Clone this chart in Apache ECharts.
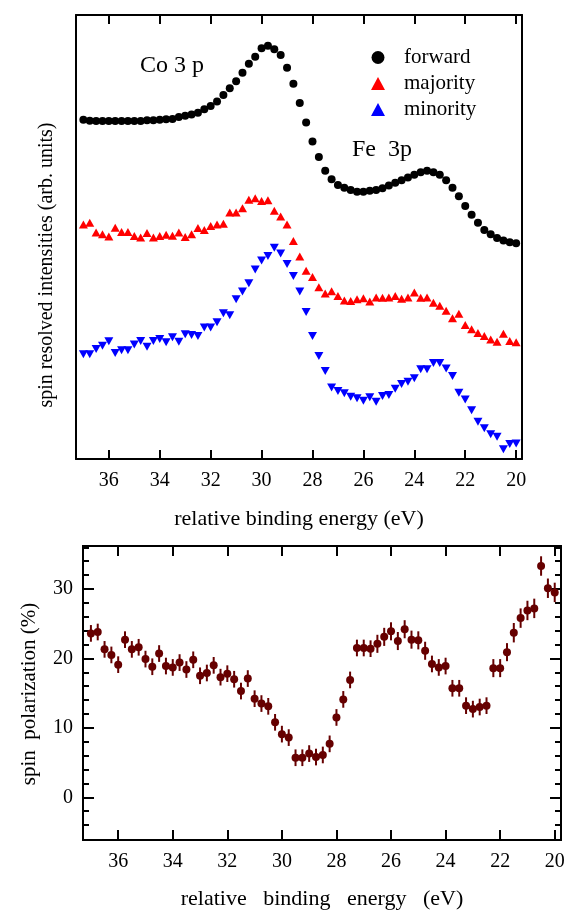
<!DOCTYPE html>
<html>
<head>
<meta charset="utf-8">
<script src="https://cdn.jsdelivr.net/npm/echarts@6/dist/echarts.min.js"></script>
<style>
  html, body { margin: 0; padding: 0; background: #fff; }
  #chart { width: 566px; height: 910px; }
</style>
</head>
<body>
<div id="chart"></div>
<script>
// binding energies (eV), same grid for all curves
const energy = [37, 36.75, 36.5, 36.25, 36, 35.75, 35.5, 35.25, 35, 34.75, 34.5, 34.25, 34, 33.75, 33.5, 33.25,
  33, 32.75, 32.5, 32.25, 32, 31.75, 31.5, 31.25, 31, 30.75, 30.5, 30.25, 30, 29.75, 29.5, 29.25, 29, 28.75,
  28.5, 28.25, 28, 27.75, 27.5, 27.25, 27, 26.75, 26.5, 26.25, 26, 25.75, 25.5, 25.25, 25, 24.75, 24.5, 24.25,
  24, 23.75, 23.5, 23.25, 23, 22.75, 22.5, 22.25, 22, 21.75, 21.5, 21.25, 21, 20.75, 20.5, 20.25, 20]

// spin resolved intensities (arb. units)
const forward = [76.4, 76.2, 76.1, 76.1, 76.1, 76.1, 76.1, 76.1, 76.1, 76.1, 76.3, 76.3, 76.4, 76.5, 76.6, 77.0,
  77.3, 77.6, 78.0, 78.8, 79.5, 80.5, 82.0, 83.5, 85.1, 87.0, 89.0, 90.6, 92.5, 93.1, 92.3, 91.0, 88.1, 84.5,
  80.2, 75.8, 71.5, 68.0, 64.9, 63.0, 61.7, 61.1, 60.6, 60.2, 60.2, 60.4, 60.6, 61.0, 61.6, 62.2, 62.8, 63.4,
  64.0, 64.6, 64.9, 64.6, 64.0, 62.8, 61.1, 59.2, 57.0, 55.0, 53.2, 51.6, 50.6, 49.8, 49.2, 48.8, 48.6]

const majority = [52.8, 53.2, 51.0, 50.6, 50.1, 52.1, 51.1, 51.1, 50.2, 49.9, 50.9, 49.9, 50.2, 50.5, 50.3, 51.0,
  50.0, 50.6, 52.0, 51.6, 52.5, 52.8, 53.0, 55.5, 55.5, 56.5, 58.4, 58.7, 58.1, 58.3, 55.9, 54.6, 52.8, 49.1,
  45.6, 42.4, 41.0, 38.7, 37.3, 37.8, 36.7, 35.7, 35.6, 36.0, 36.2, 35.5, 36.4, 36.3, 36.4, 36.7, 36.1, 36.4,
  37.5, 36.3, 36.4, 35.2, 34.5, 33.4, 31.7, 32.7, 30.2, 29.2, 28.4, 27.7, 26.9, 26.4, 28.2, 26.6, 26.3]

const minority = [23.6, 23.6, 24.8, 25.5, 26.5, 23.9, 24.5, 24.5, 25.8, 26.6, 25.3, 26.6, 27.0, 26.3, 27.4, 26.4,
  28.1, 27.9, 27.7, 29.6, 29.6, 30.8, 32.8, 32.4, 36.0, 37.7, 39.6, 42.7, 44.7, 45.7, 47.6, 46.3, 43.9, 41.2,
  37.7, 33.1, 27.7, 23.2, 19.8, 16.1, 15.3, 14.8, 14.0, 13.7, 13.1, 13.9, 12.9, 14.2, 14.4, 15.8, 16.9, 17.4,
  18.2, 20.2, 20.2, 21.6, 21.6, 20.4, 18.7, 14.9, 13.4, 11.0, 8.4, 6.9, 5.6, 5.0, 2.2, 3.4, 3.5]

// spin polarization (%) and its error bars
const polarization = [23.6, 23.8, 21.3, 20.5, 19.1, 22.7, 21.3, 21.6, 19.9, 18.8, 20.7, 18.9, 18.7, 19.4, 18.4,
  19.8, 17.5, 17.9, 19.0, 17.3, 17.8, 17.0, 15.3, 17.1, 14.2, 13.5, 13.1, 10.8, 9.1, 8.6, 5.7, 5.7, 6.3, 5.8,
  6.1, 7.7, 11.5, 14.1, 16.9, 21.5, 21.5, 21.4, 22.1, 23.1, 23.9, 22.5, 24.2, 22.7, 22.6, 21.1, 19.2, 18.7,
  18.9, 15.7, 15.7, 13.2, 12.7, 13.0, 13.2, 18.6, 18.6, 20.9, 23.7, 25.8, 26.9, 27.2, 33.3, 30.1, 29.5]

const polError = [1.2, 1.2, 1.2, 1.2, 1.2, 1.2, 1.2, 1.2, 1.2, 1.2, 1.2, 1.2, 1.2, 1.2, 1.2,
  1.2, 1.2, 1.2, 1.2, 1.2, 1.2, 1.2, 1.2, 1.2, 1.2, 1.2, 1.2, 1.2, 1.2, 1.2, 1.2, 1.2, 1.2, 1.2,
  1.2, 1.2, 1.2, 1.2, 1.2, 1.2, 1.2, 1.2, 1.3, 1.3, 1.3, 1.3, 1.3, 1.3, 1.3, 1.3, 1.2, 1.2,
  1.2, 1.2, 1.2, 1.2, 1.2, 1.2, 1.2, 1.3, 1.3, 1.3, 1.4, 1.4, 1.4, 1.4, 1.4, 1.4, 1.4]

const xTicks = [36, 34, 32, 30, 28, 26, 24, 22, 20]
const polMajor = [0, 10, 20, 30]
const polMinor = [-4, -2, 2, 4, 6, 8, 12, 14, 16, 18, 22, 24, 26, 28, 32, 34, 36]

const serif = 'Liberation Serif'
const frame = { show: true, onZero: false, lineStyle: { color: '#000', width: 2 } }

const chart = echarts.init(document.getElementById('chart'))

const xAxisFor = (gridIndex, position, labels, name, nameGap, tickLen, nameSize) => ({
  gridIndex,
  type: 'value',
  position,
  min: 19.77,
  max: 37.29,
  inverse: true,
  axisLine: frame,
  splitLine: { show: false },
  axisTick: { show: true, inside: true, length: tickLen, customValues: xTicks, lineStyle: { color: '#000', width: 2 } },
  axisLabel: labels ? {
    show: true, customValues: xTicks, margin: 12, color: '#000', fontFamily: serif, fontSize: 20
  } : { show: false },
  name: name || '',
  nameLocation: 'middle',
  nameGap,
  nameTextStyle: { color: '#000', fontFamily: serif, fontSize: nameSize || 20 }
})

const polAxis = (position, ticks, len, labels) => ({
  gridIndex: 1,
  type: 'value',
  position,
  min: -6.14,
  max: 36.18,
  axisLine: frame,
  splitLine: { show: false },
  axisTick: { show: true, inside: true, length: len, customValues: ticks, lineStyle: { color: '#000', width: 2 } },
  axisLabel: labels ? {
    show: true, customValues: ticks, margin: 10, color: '#000', fontFamily: serif, fontSize: 20
  } : { show: false }
})

const option = {
  animation: false,
  backgroundColor: '#fff',
  grid: [
    { left: 76, top: 15, width: 446, height: 444, outerBoundsMode: 'none', containLabel: false },
    { left: 83, top: 546, width: 478, height: 294, outerBoundsMode: 'none', containLabel: false }
  ],
  xAxis: [
    xAxisFor(0, 'bottom', true, 'relative binding energy (eV)', 49, 9, 22),
    xAxisFor(0, 'top', false, '', 0, 9),
    xAxisFor(1, 'bottom', true, 'relative   binding   energy   (eV)', 48, 10, 22),
    xAxisFor(1, 'top', false, '', 0, 10)
  ],
  yAxis: [
    { gridIndex: 0, type: 'value', position: 'left', min: 0, max: 100, axisLine: frame,
      axisTick: { show: false }, axisLabel: { show: false }, splitLine: { show: false } },
    { gridIndex: 0, type: 'value', position: 'right', min: 0, max: 100, axisLine: frame,
      axisTick: { show: false }, axisLabel: { show: false }, splitLine: { show: false } },
    polAxis('left', polMajor, 11, true),
    polAxis('left', polMinor, 6, false),
    polAxis('right', polMajor, 11, false),
    polAxis('right', polMinor, 6, false)
  ],
  legend: {
    orient: 'vertical',
    left: 366,
    top: 42,
    itemWidth: 14,
    itemHeight: 13,
    itemGap: 5,
    data: ['forward', 'majority', 'minority'],
    textStyle: { color: '#000', fontFamily: serif, fontSize: 21, padding: [0, 0, 0, 14] }
  },
  graphic: [
    { type: 'text', left: 140, top: 54, style: { text: 'Co 3 p', fill: '#000', font: '24px "Liberation Serif"' } },
    { type: 'text', left: 352, top: 138, style: { text: 'Fe  3p', fill: '#000', font: '24px "Liberation Serif"' } },
    { type: 'text', x: 47, y: 265, rotation: Math.PI / 2,
      style: { text: 'spin resolved intensities (arb. units)', fill: '#000', font: '20px "Liberation Serif"',
        textAlign: 'center', textVerticalAlign: 'middle' } },
    { type: 'text', x: 29, y: 694, rotation: Math.PI / 2,
      style: { text: 'spin  polarization (%)', fill: '#000', font: '21px "Liberation Serif"',
        textAlign: 'center', textVerticalAlign: 'middle' } }
  ],
  series: [
    {
      name: 'forward', type: 'scatter', xAxisIndex: 0, yAxisIndex: 0,
      symbol: 'circle', symbolSize: 8, itemStyle: { color: '#000', opacity: 1 },
      data: energy.map((e, i) => [e, forward[i]])
    },
    {
      name: 'majority', type: 'scatter', xAxisIndex: 0, yAxisIndex: 0,
      symbol: 'triangle', symbolSize: [9, 8], itemStyle: { color: '#ff0000', opacity: 1 },
      data: energy.map((e, i) => [e, majority[i]])
    },
    {
      name: 'minority', type: 'scatter', xAxisIndex: 0, yAxisIndex: 0,
      symbol: 'triangle', symbolRotate: 180, symbolSize: [9, 8], itemStyle: { color: '#0000ff', opacity: 1 },
      data: energy.map((e, i) => [e, minority[i]])
    },
    {
      name: 'error', type: 'custom', xAxisIndex: 2, yAxisIndex: 2,
      data: energy.map((e, i) => [e, polarization[i] - polError[i], polarization[i] + polError[i]]),
      encode: { x: 0, y: [1, 2] },
      renderItem: (params, api) => {
        const p1 = api.coord([api.value(0), api.value(1)])
        const p2 = api.coord([api.value(0), api.value(2)])
        return {
          type: 'line',
          shape: { x1: p1[0], y1: p1[1], x2: p2[0], y2: p2[1] },
          style: { stroke: '#660000', lineWidth: 2 }
        }
      }
    },
    {
      name: 'polarization', type: 'scatter', xAxisIndex: 2, yAxisIndex: 2,
      symbol: 'circle', symbolSize: 8, itemStyle: { color: '#660000', opacity: 1 },
      data: energy.map((e, i) => [e, polarization[i]])
    }
  ]
}

chart.setOption(option)
</script>
</body>
</html>
